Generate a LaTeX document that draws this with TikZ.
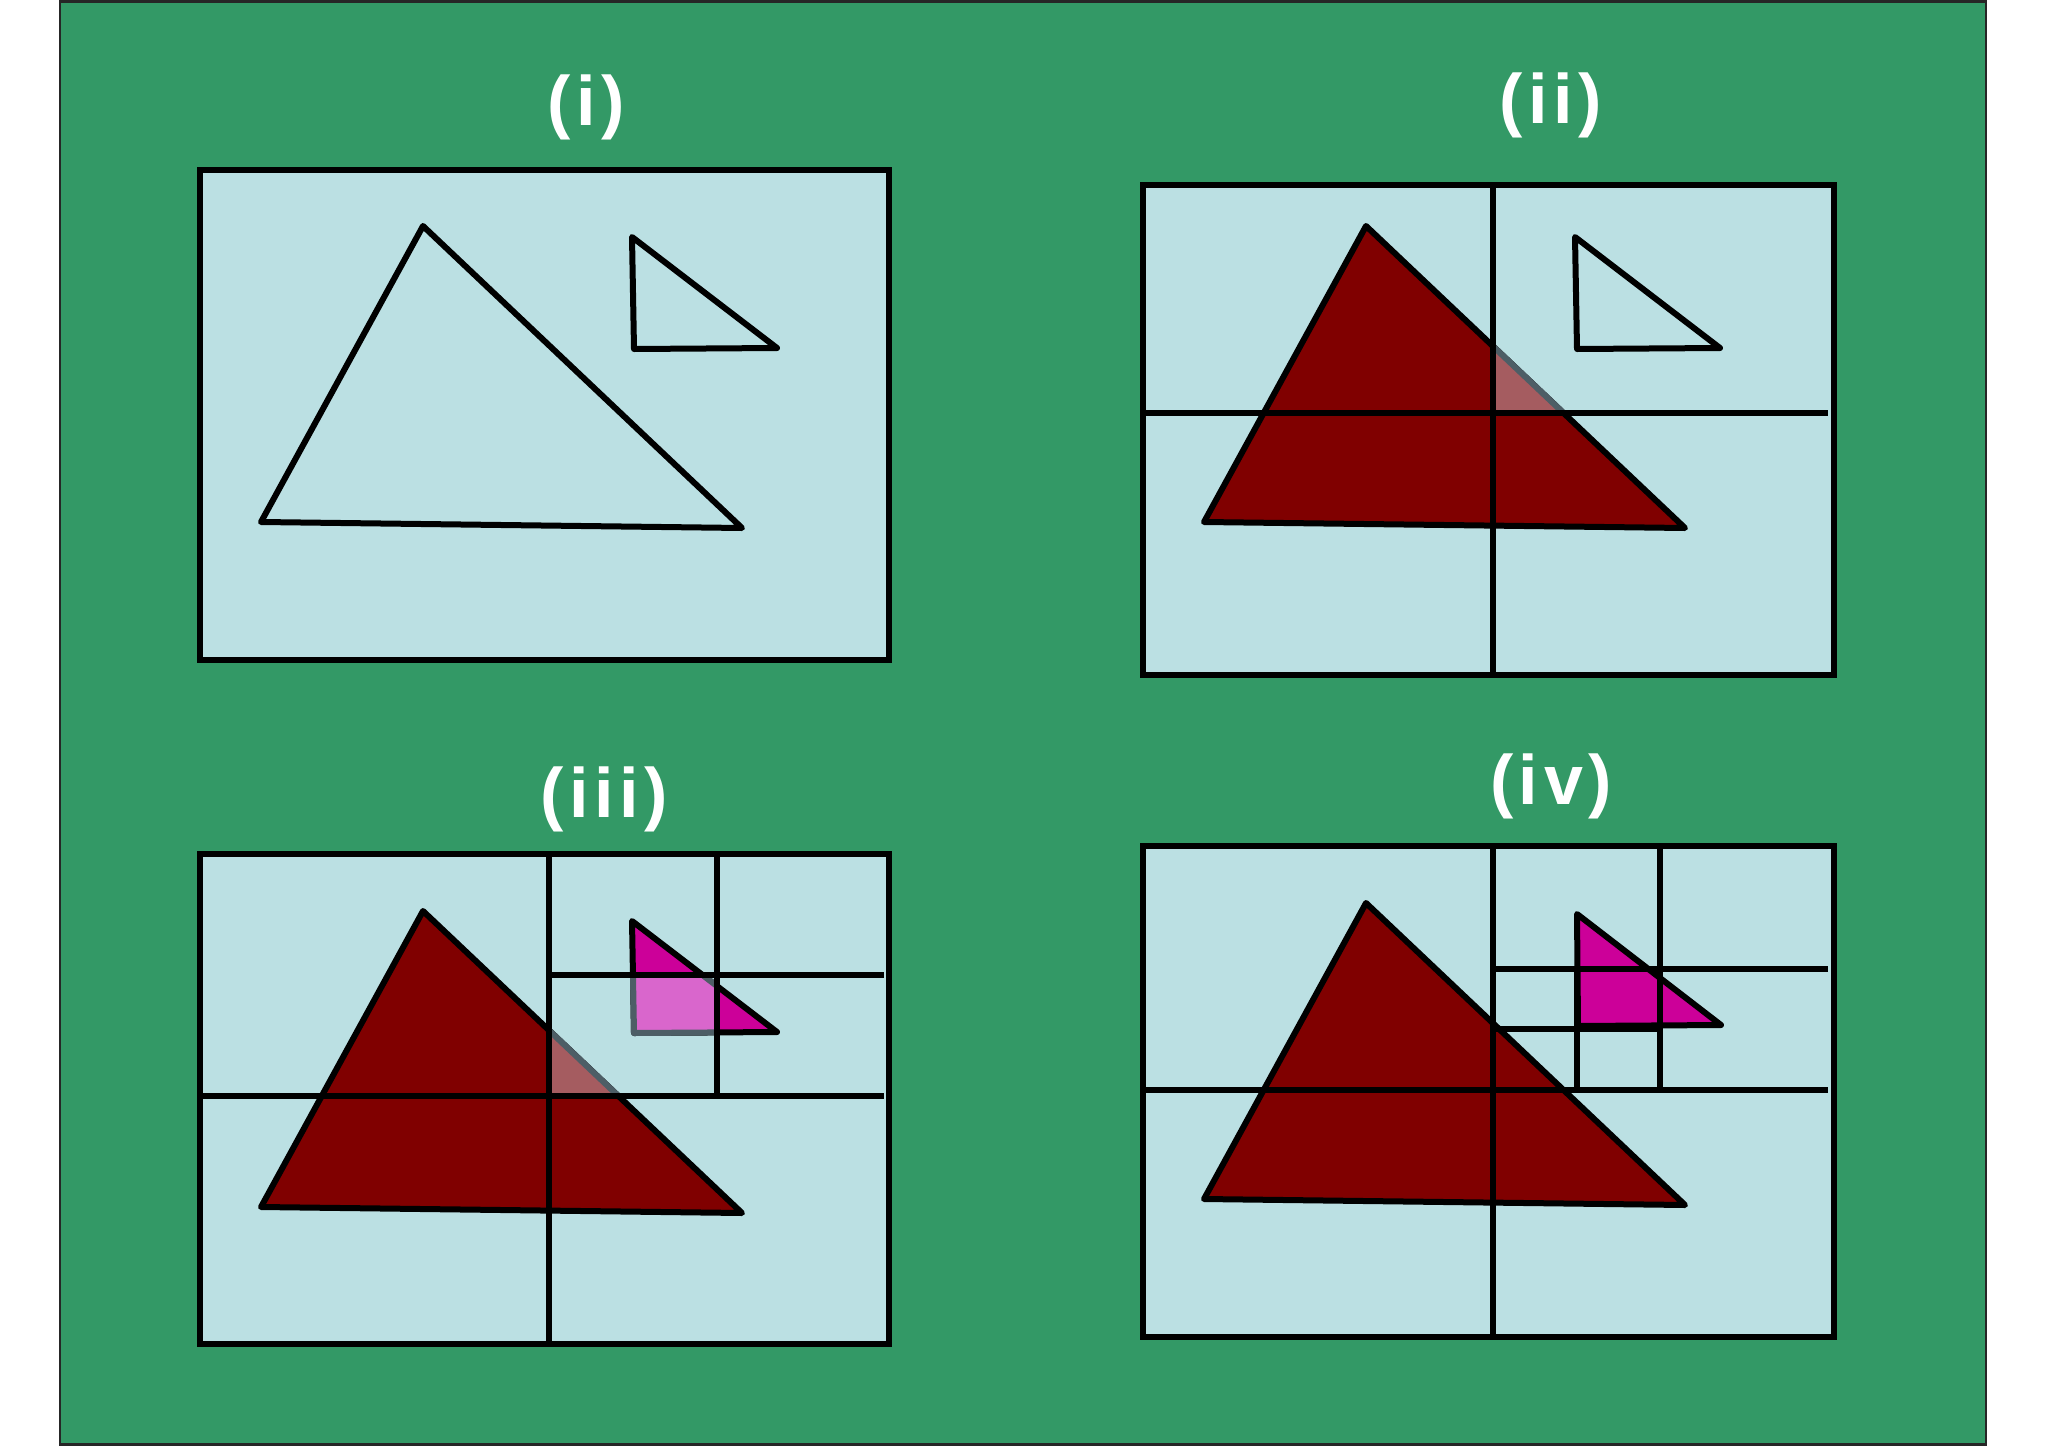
\documentclass[tikz,border=0pt]{standalone}
\usepackage{fontspec}
\newfontfamily\labfont[LetterSpace=8]{Liberation Sans}
\definecolor{bggreen}{RGB}{51,153,102}
\definecolor{cellblue}{RGB}{187,224,227}
\definecolor{darkred}{RGB}{128,0,0}
\definecolor{shadered}{RGB}{165,92,96}
\definecolor{mag}{RGB}{204,0,153}
\definecolor{shademag}{RGB}{217,102,204}
\definecolor{edgegray}{RGB}{77,94,102}
\begin{document}
\begin{tikzpicture}[x=1pt,y=-1pt,
  boxfill/.style={fill=cellblue},
  boxedge/.style={draw=black,line width=6.5},
  tri/.style={draw=black,line width=6,line join=round},
  gridline/.style={draw=black,line width=5.5},
  lab/.style={text=white,font=\labfont\bfseries\fontsize{70}{84}\selectfont,inner sep=0pt,anchor=base}]
\useasboundingbox (0,0) rectangle (2048,1448);
\fill[white] (0,0) rectangle (2048,1448);
\draw[fill=bggreen,draw=black!85,line width=2.5] (60,1.5) rectangle (1986,1444.5);

% ---------- labels
\node[lab] (labi)   at (586,125) {(i)};
\node[lab] (labii)  at (1551,123) {(ii)};
\node[lab] (labiii) at (604,817) {(iii)};
\node[lab] (labiv)  at (1551,804) {(iv)};

% ---------- panel (i)
\fill[boxfill] (200,170) rectangle (889,660);
\draw[tri] (423,226) -- (261,522) -- (742,528) -- cycle;
\draw[tri] (632,237) -- (634,349) -- (777,348) -- cycle;
\draw[boxedge] (200,170) rectangle (889,660);

% ---------- panel (ii)
\fill[boxfill] (1143,185) rectangle (1834,675);
\begin{scope}[shift={(943,0)}]
  \filldraw[tri,fill=darkred] (423,226) -- (261,522) -- (742,528) -- cycle;
  \draw[tri] (632,237) -- (634,349) -- (777,348) -- cycle;
\end{scope}
\begin{scope}
  \clip (1493,185) rectangle (1834,413);
  \filldraw[tri,fill=shadered,draw=edgegray] (1366,226) -- (1204,522) -- (1685,528) -- cycle;
\end{scope}
\draw[gridline] (1493,185) -- (1493,673);
\draw[gridline] (1143,413) -- (1828,413);
\draw[boxedge] (1143,185) rectangle (1834,675);

% ---------- panel (iii)
\fill[boxfill] (200,854) rectangle (889,1344);
\begin{scope}[shift={(0,685)}]
  \filldraw[tri,fill=darkred] (423,226) -- (261,522) -- (742,528) -- cycle;
  \filldraw[tri,fill=mag] (632,236) -- (634,348) -- (777,347) -- cycle;
\end{scope}
\begin{scope}
  \clip (549,854) rectangle (889,1096);
  \filldraw[tri,fill=shadered,draw=edgegray] (423,911) -- (261,1207) -- (742,1213) -- cycle;
\end{scope}
\begin{scope}
  \clip (549,975) rectangle (717,1096);
  \filldraw[tri,fill=shademag,draw=edgegray] (632,921) -- (634,1033) -- (777,1032) -- cycle;
\end{scope}
\draw[gridline] (549,854) -- (549,1341);
\draw[gridline] (200,1096) -- (884,1096);
\draw[gridline] (717,854) -- (717,1096);
\draw[gridline] (549,975) -- (884,975);
\draw[boxedge] (200,854) rectangle (889,1344);

% ---------- panel (iv)
\fill[boxfill] (1143,846) rectangle (1834,1337);
\begin{scope}[shift={(943,677)}]
  \filldraw[tri,fill=darkred] (423,226) -- (261,522) -- (742,528) -- cycle;
  \filldraw[tri,fill=mag] (634,237) -- (635,349) -- (778,348) -- cycle;
\end{scope}
\draw[gridline] (1493,846) -- (1493,1335);
\draw[gridline] (1143,1090) -- (1828,1090);
\draw[gridline] (1660,846) -- (1660,1090);
\draw[gridline] (1493,969) -- (1828,969);
\draw[gridline] (1577,969) -- (1577,1090);
\draw[gridline] (1493,1029) -- (1660,1029);
\draw[boxedge] (1143,846) rectangle (1834,1337);
\end{tikzpicture}
\end{document}
